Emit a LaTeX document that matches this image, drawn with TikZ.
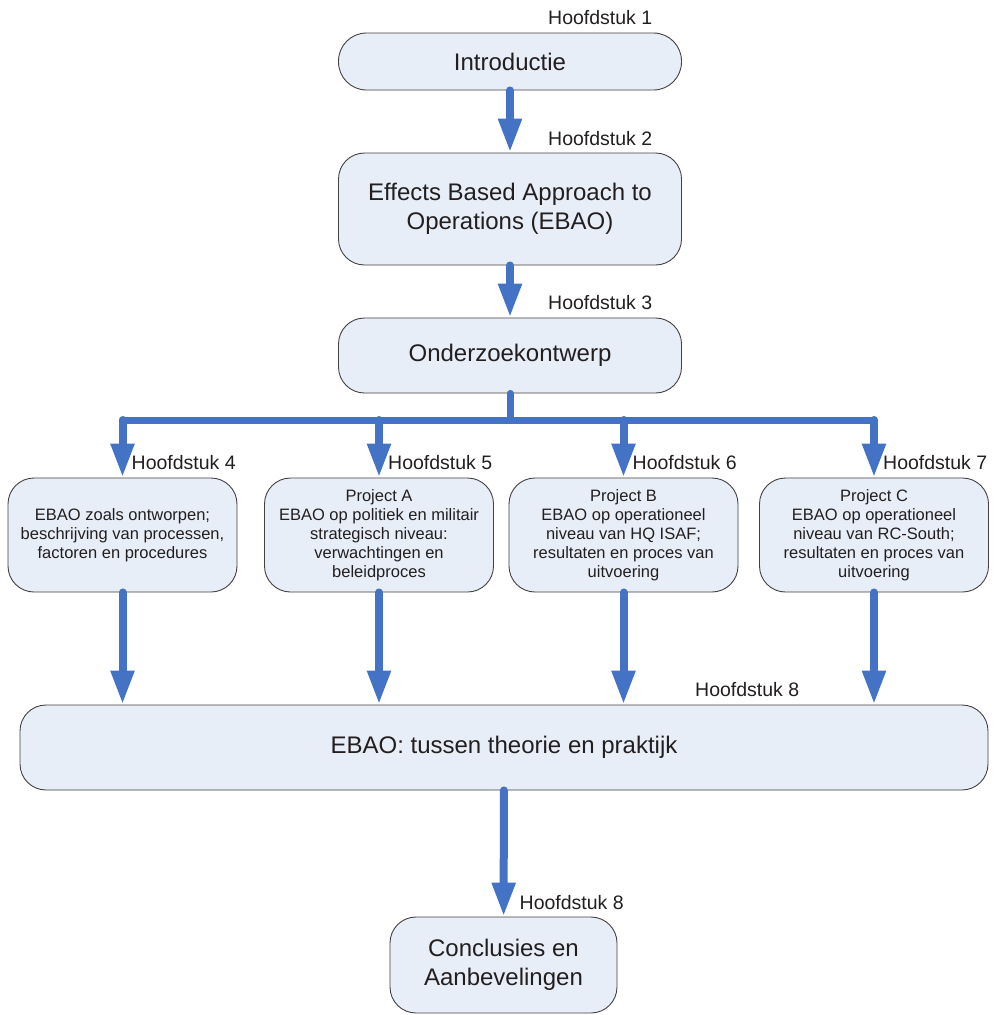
\documentclass[tikz,border=0pt]{standalone}
\usepackage{fontspec}
\setmainfont{Liberation Sans}
\usetikzlibrary{arrows.meta}
\definecolor{boxfill}{RGB}{232,238,247}
\definecolor{flowblue}{RGB}{68,114,196}
\definecolor{ink}{RGB}{35,31,32}

\begin{document}
\begin{tikzpicture}[x=1pt,y=-1pt,line cap=round,line join=round,
  box/.style={draw=ink!85,fill=boxfill,line width=0.9pt,rounded corners=26pt,inner sep=0pt,align=center,text=ink},
  bigbox/.style={box,font=\fontsize{24}{29}\selectfont},
  smallbox/.style={box,minimum width=229pt,minimum height=114pt,font=\fontsize{16.5}{19}\selectfont},
  tag/.style={anchor=base west,inner sep=0pt,text=ink,font=\fontsize{19.5}{23}\selectfont},
  flow/.style={draw=flowblue,line width=8pt,-{Triangle[width=22pt,length=34pt]}},
  bus/.style={draw=flowblue,line width=7pt}]
  \useasboundingbox (0,0) rectangle (999,1015);
  % main line of chapters
  \node[bigbox,minimum width=343pt,minimum height=57pt,rounded corners=28pt] (intro) at (510,61.5) {Introductie};
  \node[bigbox,minimum width=343pt,minimum height=112pt] (ebao) at (510,209) {Effects Based Approach to\\Operations (EBAO)};
  \node[bigbox,minimum width=343pt,minimum height=75pt] (design) at (510,355.5) {Onderzoekontwerp};
  % the four studies
  \node[smallbox] (study) at (122.5,535) {EBAO zoals ontworpen;\\beschrijving van processen,\\factoren en procedures};
  \node[smallbox] (projA) at (379,535) {Project A\\EBAO op politiek en militair\\strategisch niveau:\\verwachtingen en\\beleidproces};
  \node[smallbox] (projB) at (623.5,535) {Project B\\EBAO op operationeel\\niveau van HQ ISAF;\\resultaten en proces van\\uitvoering};
  \node[smallbox] (projC) at (874,535) {Project C\\EBAO op operationeel\\niveau van RC-South;\\resultaten en proces van\\uitvoering};
  \node[bigbox,minimum width=968pt,minimum height=85pt] (theory) at (504,747.5) {EBAO: tussen theorie en praktijk};
  \node[bigbox,minimum width=227pt,minimum height=96pt] (concl) at (503.5,965) {Conclusies en\\Aanbevelingen};
  % chapter tags
  \node[tag] (h1) at ([xshift=38,yshift=8]intro.north) {Hoofdstuk 1};
  \node[tag] (h2) at ([xshift=38,yshift=7]ebao.north) {Hoofdstuk 2};
  \node[tag] (h3) at ([xshift=38,yshift=8]design.north) {Hoofdstuk 3};
  \foreach \s/\n in {study/4,projA/5,projB/6,projC/7}
    \node[tag] (h\n) at ([xshift=9,yshift=8]\s.north) {Hoofdstuk \n};
  \node[tag] (h8) at ([xshift=191,yshift=8]theory.north) {Hoofdstuk 8};
  \node[tag] (h9) at ([xshift=16,yshift=7]concl.north) {Hoofdstuk 8};
  % arrows
  \draw[flow] (intro) -- (ebao);
  \draw[flow] (ebao) -- (design);
  \coordinate (split) at (510,420);
  \draw[bus] (design.south) -- (split);
  \draw[bus] (split -| study) -- (split -| projC);
  \foreach \s in {study,projA,projB,projC} {
    \draw[flow] (split -| \s) -- (\s.north);
    \draw[flow] (\s.south) -- (\s.south |- theory.north);
  }
  \draw[flow] (theory) -- (concl);
\end{tikzpicture}
\end{document}
